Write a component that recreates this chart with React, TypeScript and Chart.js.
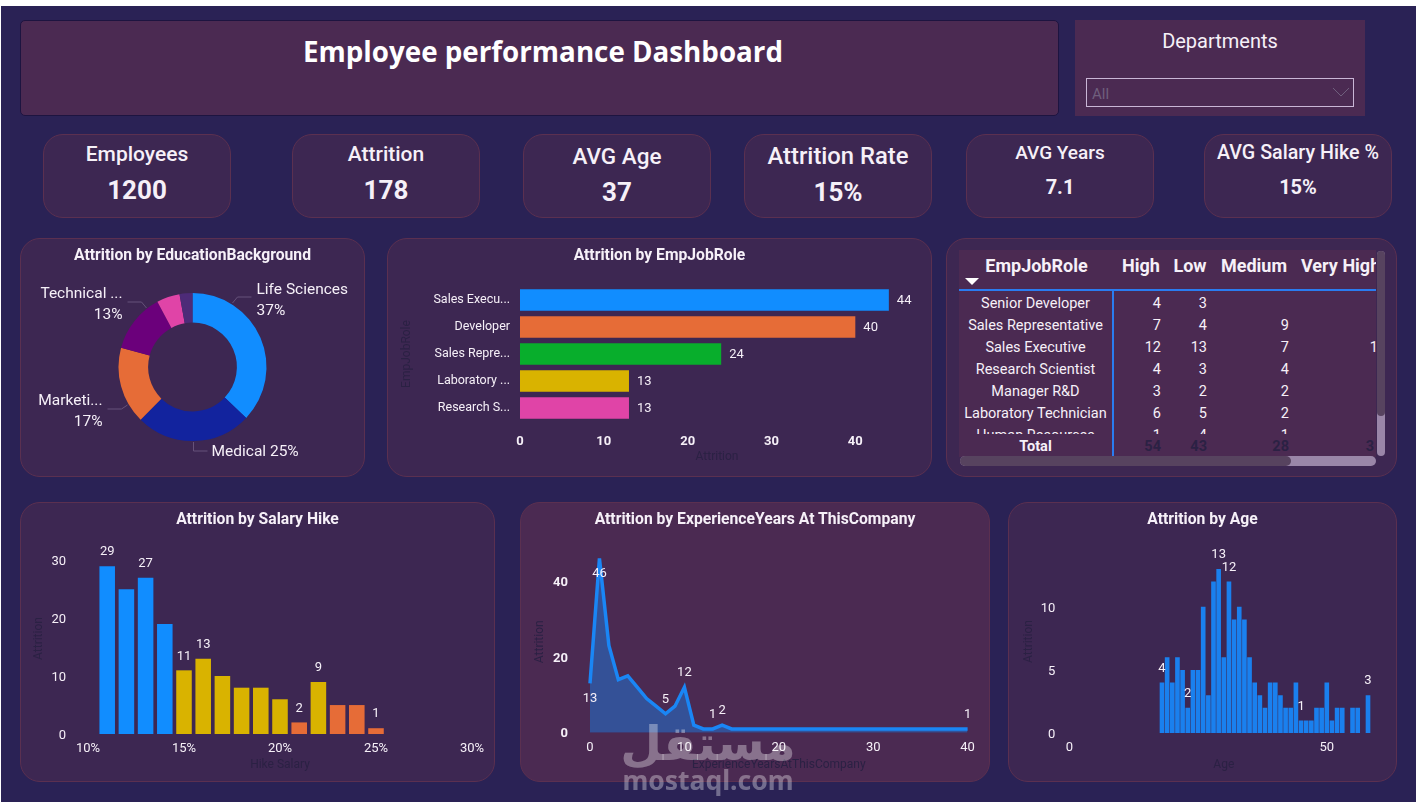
import React, { useEffect, useRef } from 'react';
import { Chart, registerables } from 'chart.js';

Chart.register(...registerables);

// ---- data ----
const kpiLabels = ['Employees', 'Attrition', 'AVG Age', 'Attrition Rate', 'AVG Years', 'AVG Salary Hike %'];
const kpiValues = ['1200', '178', '37', '15%', '7.1', '15%'];

const educationLabels = ['Life Sciences', 'Medical', 'Marketi...', 'Technical ...', 'Other', 'Human Resources'];
const educationValues = [66, 45, 30, 23, 9, 5];

const roleLabels = ['Sales Execu...', 'Developer', 'Sales Repre...', 'Laboratory ...', 'Research S...'];
const roleValues = [44, 40, 24, 13, 13];

const tableRoles = ['Senior Developer', 'Sales Representative', 'Sales Executive', 'Research Scientist', 'Manager R&D', 'Laboratory Technician', 'Human Resources'];
const tableHigh = ['4', '7', '12', '4', '3', '6', '1'];
const tableLow = ['3', '4', '13', '3', '2', '5', '4'];
const tableMedium = ['', '9', '7', '4', '2', '2', '1'];
const tableVeryHigh = ['', '4', '12', '', '', '', ''];
const tableTotals = ['54', '43', '28', '3'];

const hikePercents = [11, 12, 13, 14, 15, 16, 17, 18, 19, 20, 21, 22, 23, 24, 25];
const hikeValues = [29, 25, 27, 19, 11, 13, 10, 8, 8, 6, 2, 9, 5, 5, 1];
const hikeLabelled = [11, 13, 15, 16, 21, 22, 25];
const hikeBlue = [11, 12, 13, 14];
const hikeOrange = [21, 23, 24, 25];

const expYears = [0, 1, 2, 3, 4, 5, 6, 7, 8, 9, 10, 11, 12, 13, 14, 15, 16, 17, 18, 19, 20, 22, 24, 40];
const expValues = [13, 46, 23, 14, 15, 12, 9, 7, 5, 7, 12, 2, 1, 1, 2, 1, 1, 1, 1, 1, 1, 1, 1, 1];
const expLabelAbove = [8, 10, 13, 14, 40];
const expLabelBelow = [0, 1];

const ages = [18, 19, 20, 21, 22, 23, 24, 25, 26, 27, 28, 29, 30, 31, 32, 33, 34, 35, 36, 37, 38, 39, 40, 41, 42, 43, 44, 45, 46, 47, 48, 49, 50, 51, 52, 53, 54, 55, 56, 57, 58];
const ageValues = [4, 6, 4, 6, 5, 2, 5, 5, 10, 3, 12, 13, 6, 12, 9, 10, 9, 6, 4, 3, 2, 4, 4, 3, 2, 2, 4, 1, 1, 1, 2, 2, 4, 1, 2, 2, 0, 2, 2, 0, 3];
const ageLabelled = [18, 23, 29, 31, 45, 58];

// ---- look ----
const PAGE = '#2a2255';
const PANEL = '#3d2752';
const PANEL_RED = '#4b2a52';
const EDGE = '#5b3050';
const DIM = '#2b2144';
const TEXT = '#f6f0f8';
const FONT = 'Roboto, sans-serif';
const BLUE = '#118DFF';
const ORANGE = '#E66C37';
const YELLOW = '#D9B300';
const RULE = '#2a7cf0';

const kpiBoxes = [
  { x: 43, titleY: 154, valueY: 190, titleSize: 21, valueSize: 26 },
  { x: 292, titleY: 154, valueY: 190, titleSize: 21, valueSize: 26 },
  { x: 523, titleY: 156, valueY: 192, titleSize: 22.5, valueSize: 26 },
  { x: 744, titleY: 156, valueY: 192, titleSize: 23.8, valueSize: 26 },
  { x: 966, titleY: 153, valueY: 187, titleSize: 19, valueSize: 20 },
  { x: 1204, titleY: 153, valueY: 187, titleSize: 19.7, valueSize: 20 },
];

// leader lines and text of the donut, relative to its centre
const donutCallouts = [
  { index: 0, line: [[40, -64], [45, -70], [59, -70]], x: 64, y: -77, align: 'left', split: true },
  { index: 1, line: [[1, 75], [1, 84], [15, 84]], x: 19, y: 85, align: 'left', split: false },
  { index: 2, line: [[-65, 38], [-71, 42], [-85, 42]], x: -90, y: 34, align: 'right', split: true },
  { index: 3, line: [[-46, -59], [-51, -65], [-65, -65]], x: -70, y: -73, align: 'right', split: true },
];

const donutLabels = {
  id: 'donutLabels',
  afterDatasetsDraw(chart: any) {
    const { ctx } = chart;
    const arc = chart.getDatasetMeta(0).data[0];
    const total = educationValues.reduce((a, b) => a + b, 0);
    ctx.save();
    ctx.font = `15.5px ${FONT}`;
    ctx.textBaseline = 'middle';
    donutCallouts.forEach((c) => {
      ctx.strokeStyle = '#66527a';
      ctx.lineWidth = 1;
      ctx.beginPath();
      c.line.forEach(([dx, dy], i) => {
        if (i === 0) ctx.moveTo(arc.x + dx, arc.y + dy);
        else ctx.lineTo(arc.x + dx, arc.y + dy);
      });
      ctx.stroke();
      const pct = Math.round((educationValues[c.index] / total) * 100) + '%';
      ctx.fillStyle = TEXT;
      ctx.textAlign = c.align;
      if (c.split) {
        ctx.fillText(educationLabels[c.index], arc.x + c.x, arc.y + c.y);
        ctx.fillText(pct, arc.x + c.x, arc.y + c.y + 21);
      } else {
        ctx.fillText(educationLabels[c.index] + ' ' + pct, arc.x + c.x, arc.y + c.y);
      }
    });
    ctx.restore();
  },
};

// value labels on picked marks; keys are the x values
function markLabels(above: number[], below: number[] = []) {
  return {
    id: 'markLabels',
    afterDatasetsDraw(chart: any) {
      const { ctx } = chart;
      const meta = chart.getDatasetMeta(0);
      ctx.save();
      ctx.font = `13px ${FONT}`;
      ctx.fillStyle = TEXT;
      ctx.textAlign = 'center';
      ctx.textBaseline = 'middle';
      meta.data.forEach((el: any, i: number) => {
        const p = meta._parsed[i];
        if (above.includes(p.x)) ctx.fillText(String(p.y), el.x, el.y - 14);
        if (below.includes(p.x)) ctx.fillText(String(p.y), el.x, el.y + 15);
      });
      ctx.restore();
    },
  };
}

const barEndLabels = {
  id: 'barEndLabels',
  afterDatasetsDraw(chart: any) {
    const { ctx } = chart;
    ctx.save();
    ctx.font = `13px ${FONT}`;
    ctx.fillStyle = TEXT;
    ctx.textBaseline = 'middle';
    chart.getDatasetMeta(0).data.forEach((el: any, i: number) => {
      ctx.fillText(String(roleValues[i]), el.x + 8, el.y + 1);
    });
    ctx.restore();
  },
};

// pins the plot area inside the canvas, so it lands where the reference has it
function frame(w: number, h: number, left: number, top: number, right: number, bottom: number, padLeft: number, padBottom: number) {
  return {
    padding: { left: padLeft, top, right: w - right, bottom: padBottom },
    fitX: (s: any) => { s.height = h - bottom - padBottom; },
    fitY: (s: any) => { s.width = left - padLeft; },
  };
}

function axisTitle(text: string) {
  return { display: true, text, color: DIM, font: { family: FONT, size: 12 }, padding: 0 };
}

function ticks(padding: number, weight: string, extra: any = {}) {
  return { color: TEXT, padding, maxRotation: 0, autoSkip: false, includeBounds: false, font: { family: FONT, size: 13, weight }, ...extra };
}

const noGrid = { display: false, drawTicks: false };
const noBorder = { display: false };

function baseOptions(padding: any) {
  return {
    responsive: false,
    animation: false,
    layout: { padding },
    plugins: { legend: { display: false }, title: { display: false }, tooltip: { enabled: false } },
  };
}

function donutConfig(): any {
  return {
    type: 'doughnut',
    data: {
      labels: educationLabels,
      datasets: [{
        data: educationValues,
        backgroundColor: [BLUE, '#12239E', ORANGE, '#6B007B', '#E044A7', '#4d2b78'],
        borderWidth: 0,
      }],
    },
    options: { ...baseOptions({ top: 55, bottom: 36 }), cutout: '60%' },
    plugins: [donutLabels],
  };
}

function roleConfig(): any {
  const f = frame(545, 239, 133, 48.5, 527, 183.5, 12.5, 12.5);
  return {
    type: 'bar',
    data: {
      labels: roleLabels,
      datasets: [{
        data: roleValues,
        backgroundColor: [BLUE, ORANGE, '#08AE2C', YELLOW, '#E044A7'],
        barPercentage: 0.8,
        categoryPercentage: 1,
      }],
    },
    options: {
      ...baseOptions(f.padding),
      indexAxis: 'y',
      scales: {
        x: { min: 0, max: 47, afterFit: f.fitX, grid: noGrid, border: noBorder, title: axisTitle('Attrition'), ticks: ticks(12, 'bold', { stepSize: 10 }) },
        y: { afterFit: f.fitY, grid: noGrid, border: noBorder, title: axisTitle('EmpJobRole'), ticks: { ...ticks(10, 'normal'), font: { family: FONT, size: 12.5 } } },
      },
    },
    plugins: [barEndLabels],
  };
}

function hikeConfig(): any {
  const f = frame(475, 280, 68, 41, 452, 232, 11.5, 9.5);
  return {
    type: 'bar',
    data: {
      datasets: [{
        data: hikePercents.map((x, i) => ({ x, y: hikeValues[i] })),
        backgroundColor: hikePercents.map((x) => (hikeBlue.includes(x) ? BLUE : hikeOrange.includes(x) ? ORANGE : YELLOW)),
        barPercentage: 0.81,
        categoryPercentage: 1,
      }],
    },
    options: {
      ...baseOptions(f.padding),
      scales: {
        x: {
          type: 'linear', offset: false, min: 10, max: 30, afterFit: f.fitX, grid: noGrid, border: noBorder,
          title: axisTitle('Hike Salary'),
          ticks: ticks(7, 'normal', { stepSize: 5, callback: (v: number) => v + '%' }),
        },
        y: { min: 0, max: 33, afterFit: f.fitY, grid: noGrid, border: noBorder, title: axisTitle('Attrition'), ticks: ticks(22, 'normal', { stepSize: 10, labelOffset: 1.5 }) },
      },
    },
    plugins: [markLabels(hikeLabelled)],
  };
}

function experienceConfig(): any {
  const f = frame(470, 280, 70, 48.8, 447.6, 230.7, 12.5, 10);
  return {
    type: 'line',
    data: {
      datasets: [{
        data: expYears.map((x, i) => ({ x, y: expValues[i] })),
        borderColor: '#1a86f5',
        borderWidth: 3.5,
        backgroundColor: 'rgba(17, 141, 255, 0.4)',
        fill: 'origin',
        pointRadius: 0,
        tension: 0,
        clip: false,
      }],
    },
    options: {
      ...baseOptions(f.padding),
      scales: {
        x: {
          type: 'linear', min: 0, max: 40, afterFit: f.fitX, grid: noGrid, border: noBorder,
          title: axisTitle('ExperienceYearsAtThisCompany'),
          ticks: ticks(7, 'normal', { stepSize: 10 }),
        },
        y: { min: 0, max: 48, afterFit: f.fitY, grid: noGrid, border: noBorder, title: axisTitle('Attrition'), ticks: ticks(22, 'bold', { stepSize: 20, labelOffset: 1.5 }) },
      },
    },
    plugins: [markLabels(expLabelAbove, expLabelBelow)],
  };
}

function ageConfig(): any {
  const f = frame(389, 280, 61.3, 48, 370.3, 231, 13.5, 10);
  return {
    type: 'bar',
    data: {
      datasets: [{
        data: ages.map((x, i) => ({ x, y: ageValues[i] })),
        backgroundColor: '#1a80ee',
        barPercentage: 0.9,
        categoryPercentage: 1,
      }],
    },
    options: {
      ...baseOptions(f.padding),
      scales: {
        x: {
          type: 'linear', offset: false, min: 0, max: 60, afterFit: f.fitX, grid: noGrid, border: noBorder,
          title: axisTitle('Age'),
          ticks: ticks(7, 'normal', { stepSize: 50 }),
        },
        y: { min: 0, max: 14.5, afterFit: f.fitY, grid: noGrid, border: noBorder, title: axisTitle('Attrition'), ticks: ticks(14, 'normal', { stepSize: 5, labelOffset: 1.5 }) },
      },
    },
    plugins: [markLabels(ageLabelled)],
  };
}

function ChartPanel({ x, y, w, h, bg, title, config }: any) {
  const canvasRef = useRef<HTMLCanvasElement>(null);

  useEffect(() => {
    if (!canvasRef.current) return;
    const chart = new Chart(canvasRef.current, config());
    return () => chart.destroy();
  }, [config]);

  return (
    <div style={{ position: 'absolute', left: x, top: y, width: w, height: h, background: bg, border: `1px solid ${EDGE}`, borderRadius: 20, boxSizing: 'border-box' }}>
      <canvas ref={canvasRef} width={w} height={h} style={{ position: 'absolute', left: -1, top: -1 }} />
      <div style={{ position: 'absolute', left: -1, width: w, top: 6, textAlign: 'center', color: TEXT, fontFamily: FONT, fontWeight: 700, fontSize: 15.7, lineHeight: '20px' }}>{title}</div>
    </div>
  );
}

function Txt({ x, y, w, align, size, weight, color, children }: any) {
  // y is the vertical middle of the text
  return (
    <div style={{ position: 'absolute', left: x, top: y - 15, width: w, height: 30, lineHeight: '30px', textAlign: align, fontSize: size, fontWeight: weight, color: color || TEXT, whiteSpace: 'nowrap' }}>
      {children}
    </div>
  );
}

function RoleTable() {
  const rowY = (i: number) => 303.5 + i * 22 - 250;
  const columns = [
    { right: 202, values: tableHigh },
    { right: 248, values: tableLow },
    { right: 330, values: tableMedium },
    { right: 427, values: tableVeryHigh },
  ];
  return (
    <>
      <div style={{ position: 'absolute', left: 946, top: 238, width: 451, height: 239, background: PANEL, border: `1px solid ${EDGE}`, borderRadius: 20, boxSizing: 'border-box' }} />
      <div style={{ position: 'absolute', left: 959, top: 250, width: 417, height: 207, background: PANEL_RED, overflow: 'hidden', fontFamily: FONT }}>
        <Txt x={0} y={16} w={155} align="center" size={18} weight={700}>EmpJobRole</Txt>
        <Txt x={160} y={16} w={44} align="center" size={18} weight={700}>High</Txt>
        <Txt x={212} y={16} w={38} align="center" size={18} weight={700}>Low</Txt>
        <Txt x={260} y={16} w={70} align="center" size={18} weight={700}>Medium</Txt>
        <Txt x={342} y={16} w={90} align="left" size={18} weight={700}>Very High</Txt>
        <svg style={{ position: 'absolute', left: 6, top: 28 }} width="14" height="8"><polygon points="0,0 14,0 7,7" fill="#fff" /></svg>
        <div style={{ position: 'absolute', left: 0, top: 39, width: 417, height: 2, background: RULE }} />
        <div style={{ position: 'absolute', left: 153, top: 40, width: 2, height: 167, background: RULE }} />
        <div style={{ position: 'absolute', left: 0, top: 41, width: 417, height: 143, overflow: 'hidden' }}>
          {tableRoles.map((role, i) => (
            <Txt key={role} x={0} y={rowY(i) - 41} w={153} align="center" size={14.5}>{role}</Txt>
          ))}
          {columns.map((col) => col.values.map((v, i) => (
            <Txt key={col.right + '-' + i} x={col.right - 50} y={rowY(i) - 41} w={50} align="right" size={14.5}>{v}</Txt>
          )))}
        </div>
        <Txt x={0} y={197} w={153} align="center" size={14.5} weight={700}>Total</Txt>
        {columns.map((col, i) => (
          <Txt key={col.right} x={col.right - 50 - (i === 3 ? 12 : 0)} y={197} w={50} align="right" size={14.5} weight={700} color={DIM}>{tableTotals[i]}</Txt>
        ))}
      </div>
      {/* scroll bars */}
      <div style={{ position: 'absolute', left: 960, top: 456, width: 416, height: 10, borderRadius: 5, background: '#9a86a8' }} />
      <div style={{ position: 'absolute', left: 960, top: 456, width: 331, height: 10, borderRadius: 5, background: '#57435f' }} />
      <div style={{ position: 'absolute', left: 1377, top: 251, width: 8, height: 205, borderRadius: 4, background: '#9a86a8' }} />
      <div style={{ position: 'absolute', left: 1377, top: 251, width: 8, height: 165, borderRadius: 4, background: '#57435f' }} />
    </>
  );
}

export default function App() {
  return (
    <div style={{ position: 'fixed', left: 0, top: 0, width: 1416, height: 809, background: '#fff', overflow: 'hidden', fontFamily: FONT }}>
      <div style={{ position: 'absolute', left: 1, top: 6, width: 1415, height: 796, background: PAGE }} />

      {/* header */}
      <div style={{ position: 'absolute', left: 20, top: 20, width: 1039, height: 96, background: PANEL_RED, border: '1px solid #1d1440', borderRadius: 5, boxSizing: 'border-box' }} />
      <div style={{ position: 'absolute', left: 20, top: 31, width: 1046, textAlign: 'center', color: '#fff', fontFamily: '"Open Sans", sans-serif', fontWeight: 700, fontSize: 27.75, lineHeight: '40px' }}>Employee performance Dashboard</div>

      {/* slicer */}
      <div style={{ position: 'absolute', left: 1075, top: 20, width: 290, height: 96, background: PANEL_RED }} />
      <Txt x={1075} y={41} w={290} align="center" size={20}>Departments</Txt>
      <div style={{ position: 'absolute', left: 1086, top: 78, width: 268, height: 29, border: '1px solid #c9b6d6', boxSizing: 'border-box' }} />
      <Txt x={1092} y={94} w={40} align="left" size={15} color="#6f5f7d">All</Txt>
      <svg style={{ position: 'absolute', left: 1333, top: 88 }} width="16" height="9"><polyline points="0,0 8,8 16,0" fill="none" stroke="#6f5f7d" strokeWidth="1" /></svg>

      {/* cards */}
      {kpiLabels.map((label, i) => {
        const b = kpiBoxes[i];
        return (
          <React.Fragment key={label}>
            <div style={{ position: 'absolute', left: b.x, top: 134, width: 188, height: 84, background: PANEL, border: `1px solid ${EDGE}`, borderRadius: 20, boxSizing: 'border-box' }} />
            <Txt x={b.x} y={b.titleY} w={188} align="center" size={b.titleSize} weight={500}>{label}</Txt>
            <Txt x={b.x} y={b.valueY} w={188} align="center" size={b.valueSize} weight={700}>{kpiValues[i]}</Txt>
          </React.Fragment>
        );
      })}

      <ChartPanel x={20} y={238} w={345} h={239} bg={PANEL} title="Attrition by EducationBackground" config={donutConfig} />
      <ChartPanel x={387} y={238} w={545} h={239} bg={PANEL} title="Attrition by EmpJobRole" config={roleConfig} />
      <RoleTable />
      <ChartPanel x={20} y={502} w={475} h={280} bg={PANEL} title="Attrition by Salary Hike" config={hikeConfig} />
      <ChartPanel x={520} y={502} w={470} h={280} bg={PANEL_RED} title="Attrition by ExperienceYears At ThisCompany" config={experienceConfig} />
      <ChartPanel x={1008} y={502} w={389} h={280} bg={PANEL} title="Attrition by Age" config={ageConfig} />

      {/* watermark */}
      <div style={{ position: 'absolute', left: 558, top: 708, width: 300, textAlign: 'center', color: 'rgba(255,255,255,0.34)', fontFamily: '"DejaVu Sans", sans-serif', fontWeight: 700, fontSize: 48, lineHeight: '70px' }}>مستقل</div>
      <div style={{ position: 'absolute', left: 558, top: 762, width: 300, textAlign: 'center', color: 'rgba(255,255,255,0.34)', fontFamily: '"Noto Sans", sans-serif', fontWeight: 700, fontSize: 26.5, lineHeight: '36px' }}>mostaql.com</div>
    </div>
  );
}
